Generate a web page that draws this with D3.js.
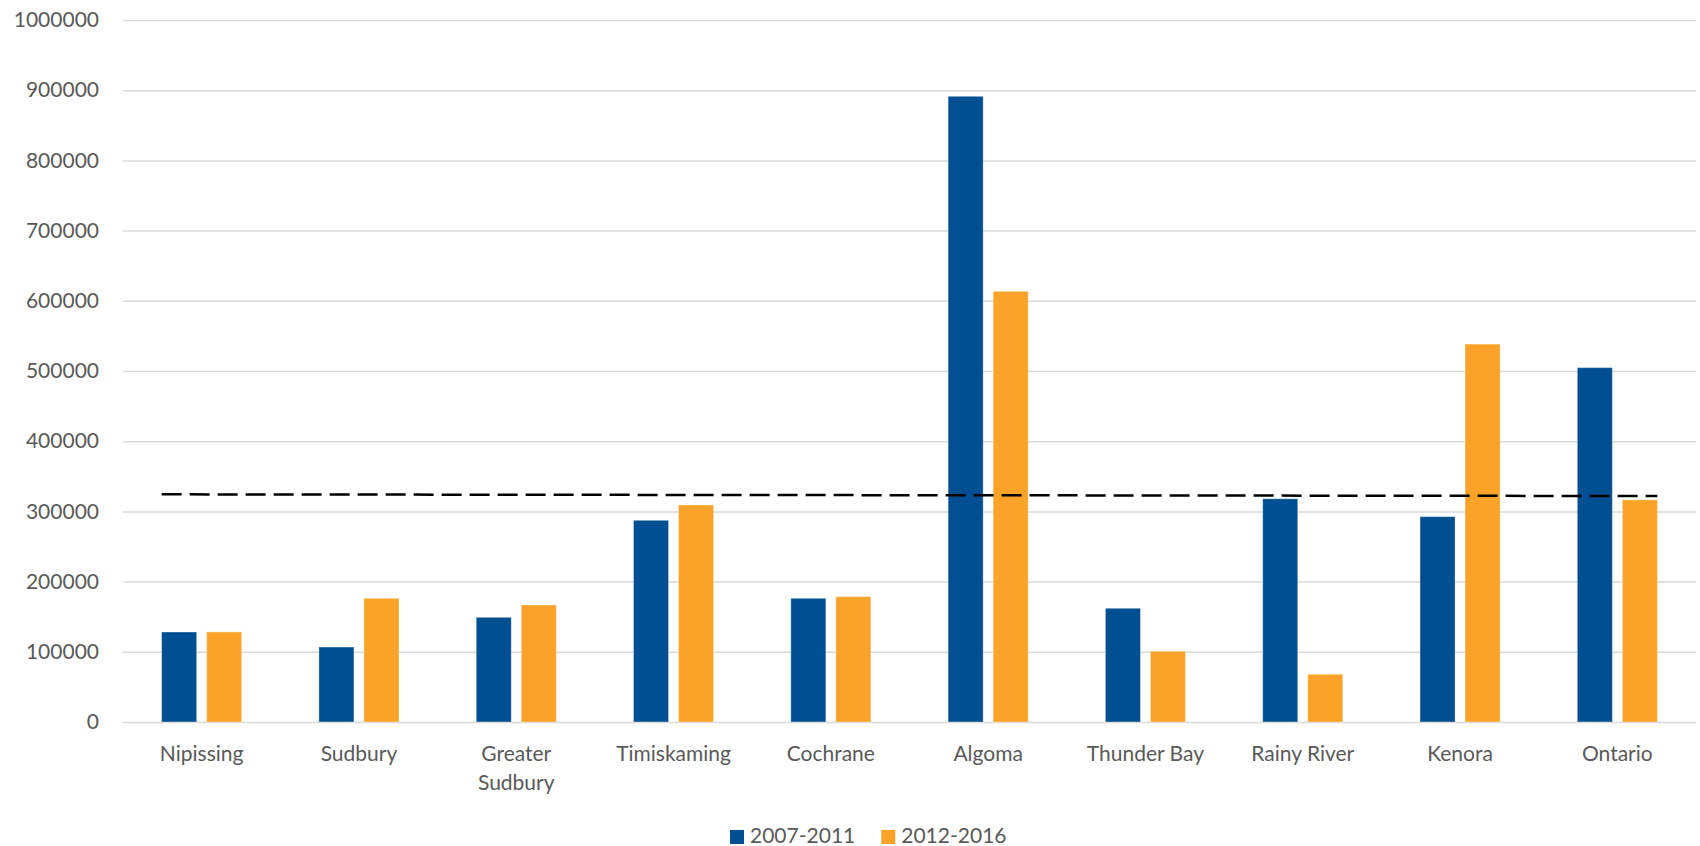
<!DOCTYPE html>
<html>
<head>
<meta charset="utf-8">
<script src="https://cdn.jsdelivr.net/npm/d3@7"></script>
<style>
  body { margin: 0; background: #fff; }
  text { font-family: Lato, "Open Sans", sans-serif; fill: #595959; }
</style>
</head>
<body>
<script>
/*** data ***/
const regions = ["Nipissing", "Sudbury", "Greater Sudbury", "Timiskaming", "Cochrane",
                 "Algoma", "Thunder Bay", "Rainy River", "Kenora", "Ontario"];
const periods = ["2007-2011", "2012-2016"];
const values0711 = [128200, 106800, 149100, 287300, 176200, 891300, 162000, 318000, 292500, 504800];
const values1216 = [128400, 176200, 166700, 309100, 178500, 613500, 100700, 68000, 538300, 316500];
// dashed reference line, value at left end and right end
const refLine = [324300, 321900];
const yTicks = [0, 100000, 200000, 300000, 400000, 500000, 600000, 700000, 800000, 900000, 1000000];

const colors = ["#004F92", "#FBA328"];

/*** layout ***/
const width = 1700, height = 846;
const margin = { top: 20, right: 4, bottom: 124, left: 123 };

const svg = d3.select("body").append("svg")
  .attr("width", width)
  .attr("height", height);

const x0 = d3.scaleBand()
  .domain(regions)
  .range([margin.left, width - margin.right])
  .paddingInner(0.491)
  .paddingOuter(0.2455);

const x1 = d3.scaleBand()
  .domain(periods)
  .range([0, x0.bandwidth()])
  .paddingInner(0.222);

const y = d3.scaleLinear()
  .domain([0, 1000000])
  .range([height - margin.bottom, margin.top]);

// gridlines + y labels
const yAxis = svg.append("g")
  .attr("transform", `translate(${margin.left},0)`)
  .call(d3.axisLeft(y).tickValues(yTicks).tickFormat(d3.format("d"))
    .tickSize(-(width - margin.left - margin.right)).tickPadding(24));
yAxis.select(".domain").remove();
yAxis.selectAll(".tick line").attr("stroke", "#D9D9D9").attr("stroke-width", 1.5);
yAxis.selectAll(".tick text").attr("font-size", 21).attr("fill", "#595959");

// bars
const rows = regions.map((r, i) => ({ region: r, vals: [values0711[i], values1216[i]] }));

svg.append("g")
  .selectAll("g")
  .data(rows)
  .join("g")
  .attr("transform", d => `translate(${x0(d.region)},0)`)
  .selectAll("rect")
  .data(d => d.vals.map((v, k) => ({ period: periods[k], value: v, k })))
  .join("rect")
  .attr("x", d => x1(d.period))
  .attr("y", d => y(d.value))
  .attr("width", x1.bandwidth())
  .attr("height", d => y(0) - y(d.value))
  .attr("fill", d => colors[d.k])
  .attr("stroke", "#fff")
  .attr("stroke-opacity", 0.35)
  .attr("stroke-width", 1);

// dashed line
const lineX = [x0(regions[0]), x0(regions[regions.length - 1]) + x0.bandwidth()];
svg.append("path")
  .attr("d", d3.line()([[lineX[0], y(refLine[0])], [lineX[1], y(refLine[1])]]))
  .attr("stroke", "#000")
  .attr("stroke-width", 2.5)
  .attr("stroke-dasharray", "20,8")
  .attr("fill", "none");

// category labels (wrap when too wide for the band)
const xLabels = svg.append("g");
regions.forEach(r => {
  const cx = x0(r) + x0.bandwidth() / 2;
  const t = xLabels.append("text")
    .attr("x", cx)
    .attr("y", height - margin.bottom + 39)
    .attr("text-anchor", "middle")
    .attr("font-size", 21)
    .text(r);
  if (t.node().getComputedTextLength() > x0.step() * 0.85) {
    const words = r.split(" ");
    t.text(null);
    words.forEach((w, i) => {
      t.append("tspan").attr("x", cx).attr("dy", i === 0 ? 0 : 29).text(w);
    });
  }
});

// legend
const legend = svg.append("g").attr("transform", "translate(730,830)");
let lx = 0;
periods.forEach((p, i) => {
  legend.append("rect")
    .attr("x", lx).attr("y", 0)
    .attr("width", 14).attr("height", 14)
    .attr("fill", colors[i]);
  const t = legend.append("text")
    .attr("x", lx + 20).attr("y", 13)
    .attr("font-size", 21)
    .text(p);
  lx += 20 + t.node().getComputedTextLength() + 26;
});
</script>
</body>
</html>
